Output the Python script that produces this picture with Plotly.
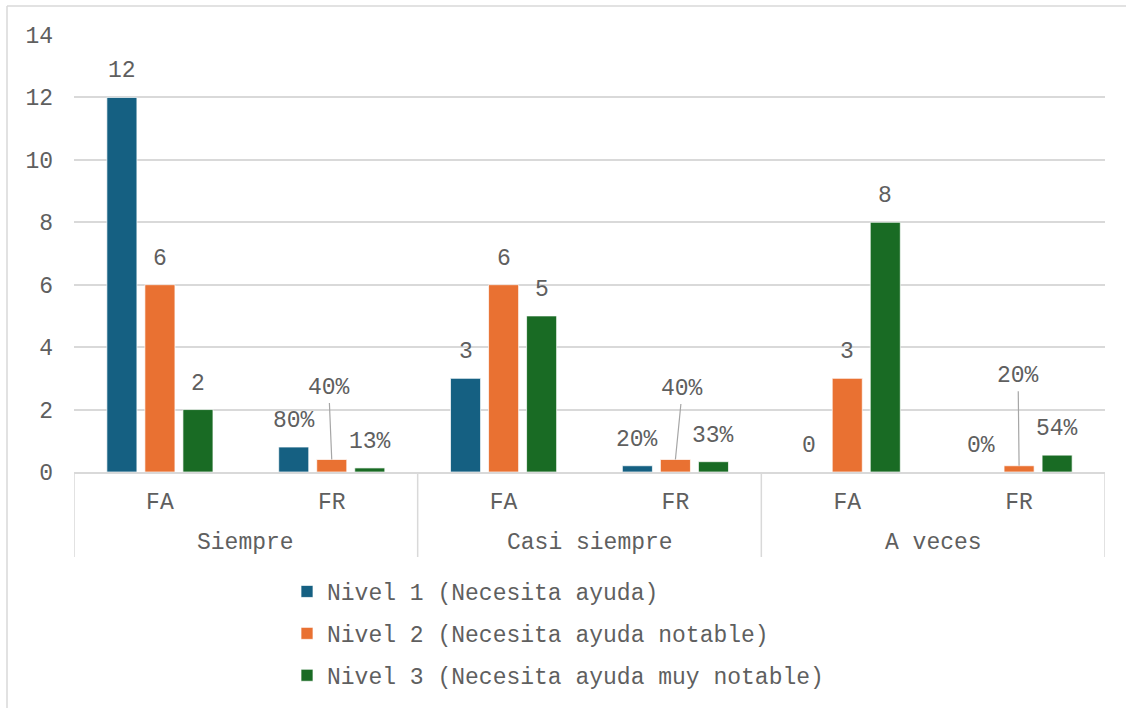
import plotly.graph_objects as go

# Grouped bar chart: FA (absolute frequency) and FR (relative frequency) per answer option
groups = ["Siempre", "Casi siempre", "A veces"]
subcats = ["FA", "FR"]
series_names = [
    "Nivel 1 (Necesita ayuda)",
    "Nivel 2 (Necesita ayuda notable)",
    "Nivel 3 (Necesita ayuda muy notable)",
]
nivel1 = [12, 0.80, 3, 0.20, 0, 0.00]
nivel2 = [6, 0.40, 6, 0.40, 3, 0.20]
nivel3 = [2, 0.13, 5, 0.33, 8, 0.54]
colors = ["#156082", "#E97132", "#196B24"]
y_ticks = [0, 2, 4, 6, 8, 10, 12, 14]

W, H = 1126, 708
ML, MR, MT, MB = 74, 21, 35, 236
PW, PH = W - ML - MR, H - MT - MB
BARGAP, BARGROUPGAP = 0.336, 0.21
FONT = "Courier New, Liberation Mono, monospace"
GREY_TXT = "#5F5F5F"
GREY_LN = "#D9D9D9"


def px_x(p):
    return (p - ML) / PW


def px_y(p):
    return (H - MB - p) / PH


n_cat = len(groups) * len(subcats)
xs = list(range(n_cat))
tick_text = [s for _ in groups for s in subcats]
series = [nivel1, nivel2, nivel3]

fig = go.Figure()
for k, (name, vals) in enumerate(zip(series_names, series)):
    fig.add_trace(go.Bar(
        x=xs, y=vals, name=name,
        marker=dict(color=colors[k], line=dict(color="rgba(255,255,255,0.7)", width=1)),
        legendgroup=f"g{k}",
        hoverinfo="skip",
    ))

# Data labels: integer counts for FA, percentages for FR
slot = (1 - BARGAP) / len(series)
leaders = {(1, 1): (-3, -72), (1, 3): (7, -71), (1, 5): (-1, -90)}
annotations = []
for k, vals in enumerate(series):
    for i, v in enumerate(vals):
        label = f"{v:g}" if i % 2 == 0 else f"{round(v * 100):d}%"
        xpos = i + (k - 1) * slot
        base = dict(x=xpos, y=v, xref="x", yref="y", text=label,
                    font=dict(family=FONT, size=23, color=GREY_TXT))
        if (k, i) in leaders:
            ax, ay = leaders[(k, i)]
            annotations.append(dict(base, showarrow=True, arrowhead=0, arrowwidth=1.2,
                                    arrowcolor="#A6A6A6", ax=ax, ay=ay, borderpad=2))
        else:
            annotations.append(dict(base, showarrow=False, yshift=26))

# Outer category labels under the FA/FR ticks
for g, name in enumerate(groups):
    annotations.append(dict(x=2 * g + 0.5, y=px_y(543), xref="x", yref="paper",
                            text=name, showarrow=False, yanchor="middle",
                            font=dict(family=FONT, size=23, color=GREY_TXT)))

shapes = []
# Dividers between outer categories
for g in range(len(groups) + 1):
    shapes.append(dict(type="line", xref="x", yref="paper", x0=2 * g - 0.5, x1=2 * g - 0.5,
                       y0=0, y1=px_y(557), line=dict(color=GREY_LN, width=1.5)))
# Chart area border
shapes.append(dict(type="line", xref="paper", yref="paper", x0=px_x(7), x1=px_x(W + 5),
                   y0=px_y(6), y1=px_y(6), line=dict(color=GREY_LN, width=1.5)))
shapes.append(dict(type="line", xref="paper", yref="paper", x0=px_x(7), x1=px_x(7),
                   y0=px_y(6), y1=px_y(H + 5), line=dict(color=GREY_LN, width=1.5)))

fig.update_layout(
    width=W, height=H,
    margin=dict(l=ML, r=MR, t=MT, b=MB, autoexpand=False),
    paper_bgcolor="white", plot_bgcolor="white",
    barmode="group", bargap=BARGAP, bargroupgap=BARGROUPGAP,
    font=dict(family=FONT, size=23, color=GREY_TXT),
    showlegend=True,
    legend=dict(x=px_x(287), y=px_y(570), xanchor="left", yanchor="top",
                orientation="v", tracegroupgap=9, traceorder="grouped",
                font=dict(family=FONT, size=23, color=GREY_TXT),
                bgcolor="rgba(0,0,0,0)"),
    annotations=annotations,
    shapes=shapes,
)
fig.update_xaxes(
    range=[-0.5, n_cat - 0.5], tickmode="array", tickvals=xs, ticktext=tick_text,
    showline=True, linecolor=GREY_LN, linewidth=1.5, showgrid=False, zeroline=False,
    ticks="", ticklabelstandoff=8, tickfont=dict(family=FONT, size=23, color=GREY_TXT),
    automargin=False,
)
fig.update_yaxes(
    range=[0, 14], tickvals=y_ticks, showgrid=True, gridcolor=GREY_LN, gridwidth=1.5,
    zeroline=False, showline=False, ticks="", ticklabelstandoff=20,
    tickfont=dict(family=FONT, size=23, color=GREY_TXT), automargin=False,
)

fig.write_html("out.html")
